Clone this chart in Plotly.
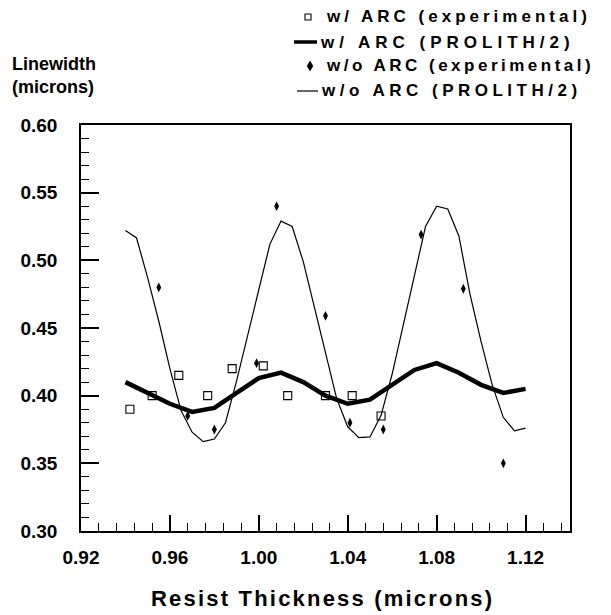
import plotly.graph_objects as go

# PROLITH/2 simulated linewidth vs. resist thickness (microns)
sim_thickness_fine = [0.940, 0.945, 0.950, 0.955, 0.960, 0.965, 0.970, 0.975, 0.980, 0.985,
                      0.990, 0.995, 1.000, 1.005, 1.010, 1.015, 1.020, 1.025, 1.030, 1.035,
                      1.040, 1.045, 1.050, 1.055, 1.060, 1.065, 1.070, 1.075, 1.080, 1.085,
                      1.090, 1.095, 1.100, 1.105, 1.110, 1.115, 1.120]
sim_without_arc = [0.522, 0.5165, 0.487, 0.455, 0.420, 0.389, 0.373, 0.366, 0.368, 0.380,
                   0.411, 0.444, 0.478, 0.512, 0.529, 0.525, 0.499, 0.465, 0.431, 0.398,
                   0.377, 0.369, 0.3695, 0.3855, 0.416, 0.452, 0.489, 0.525, 0.540, 0.538,
                   0.518, 0.475, 0.440, 0.408, 0.384, 0.374, 0.376]

sim_thickness_coarse = [0.94, 0.95, 0.96, 0.97, 0.98, 0.99, 1.00, 1.01, 1.02, 1.03,
                        1.04, 1.05, 1.06, 1.07, 1.08, 1.09, 1.10, 1.11, 1.12]
sim_with_arc = [0.410, 0.402, 0.394, 0.388, 0.391, 0.402, 0.413, 0.417, 0.410, 0.400,
                0.394, 0.397, 0.408, 0.419, 0.424, 0.417, 0.408, 0.402, 0.405]

# Measured linewidths
exp_with_arc_x = [0.942, 0.952, 0.964, 0.977, 0.988, 1.002, 1.013, 1.030, 1.042, 1.055]
exp_with_arc_y = [0.390, 0.400, 0.415, 0.400, 0.420, 0.422, 0.400, 0.400, 0.400, 0.385]

exp_without_arc_x = [0.955, 0.968, 0.980, 0.999, 1.008, 1.030, 1.041, 1.056, 1.073, 1.092, 1.110]
exp_without_arc_y = [0.480, 0.385, 0.375, 0.424, 0.540, 0.459, 0.380, 0.375, 0.519, 0.479, 0.350]

legend_labels = ["w/ ARC (experimental)", "w/ ARC (PROLITH/2)",
                 "w/o ARC (experimental)", "w/o ARC (PROLITH/2)"]

W, H = 611, 615
# plot box in pixels (left, right, top, bottom)
BOX_L, BOX_R, BOX_T, BOX_B = 81, 570, 125, 531
FONT = "Liberation Sans"


def px(x):
    return x / W


def py(y):
    return 1 - y / H


def spaced(text, ls):
    return f"<span style='letter-spacing:{ls}px'>{text}</span>"


fig = go.Figure()
fig.add_trace(go.Scatter(x=sim_thickness_fine, y=sim_without_arc, mode="lines",
                         line=dict(color="black", width=1.2), name=legend_labels[3]))
fig.add_trace(go.Scatter(x=sim_thickness_coarse, y=sim_with_arc, mode="lines",
                         line=dict(color="black", width=4.5), name=legend_labels[1]))
fig.add_trace(go.Scatter(x=exp_with_arc_x, y=exp_with_arc_y, mode="markers",
                         marker=dict(symbol="square-open", size=8, color="black",
                                     line=dict(width=1.1, color="black")),
                         name=legend_labels[0]))
fig.add_trace(go.Scatter(x=exp_without_arc_x, y=exp_without_arc_y, mode="markers",
                         marker=dict(symbol="diamond-tall", size=7, color="black"),
                         name=legend_labels[2]))

tickfont = dict(family=FONT, size=19, color="black", weight="bold")
axis_common = dict(showline=True, linecolor="black", linewidth=1.5, mirror=True,
                   showgrid=False, zeroline=False, ticks="inside", tickcolor="black",
                   tickwidth=1.5, tickformat=".2f", tickfont=tickfont, automargin=False)

fig.update_layout(
    width=W, height=H,
    margin=dict(l=0, r=0, t=0, b=0),
    paper_bgcolor="white", plot_bgcolor="white",
    showlegend=False,
    xaxis=dict(axis_common, domain=[px(BOX_L), px(BOX_R)], range=[0.92, 1.14],
               tick0=0.92, dtick=0.04, ticklen=16, ticklabelstandoff=8,
               minor=dict(ticks="inside", ticklen=8, dtick=0.008, tick0=0.92,
                          tickcolor="black", tickwidth=1)),
    yaxis=dict(axis_common, domain=[py(BOX_B), py(BOX_T)], range=[0.30, 0.60],
               tick0=0.30, dtick=0.05, ticklen=18, ticklabelstandoff=18,
               minor=dict(ticks="inside", ticklen=8, dtick=0.01, tick0=0.30,
                          tickcolor="black", tickwidth=1)),
)

annotations = [
    dict(text="Linewidth", x=px(10), y=py(64)),
    dict(text="(microns)", x=px(10), y=py(87)),
]
for a in annotations:
    a.update(xref="paper", yref="paper", xanchor="left", yanchor="middle",
             showarrow=False, font=dict(family=FONT, size=18, color="black", weight="bold"))

annotations.append(dict(text=spaced("Resist Thickness (microns)", 2.2),
                        x=px(322), y=py(598), xref="paper", yref="paper",
                        xanchor="center", yanchor="middle", showarrow=False,
                        font=dict(family=FONT, size=22, color="black", weight="bold")))

# legend block: (text start x, row centre y, letter spacing)
legend_rows = [(324, 17, 4.0), (318, 42, 5.0), (324, 66, 3.5), (319, 91, 4.5)]
for label, (tx, ty, ls) in zip(legend_labels, legend_rows):
    annotations.append(dict(text=spaced(label, ls), x=px(tx), y=py(ty),
                            xref="paper", yref="paper", xanchor="left", yanchor="middle",
                            showarrow=False,
                            font=dict(family=FONT, size=17, color="black", weight="bold")))
fig.update_layout(annotations=annotations)

shapes = [
    # open square key
    dict(type="rect", x0=px(305), x1=px(311), y0=py(14), y1=py(20),
         line=dict(color="black", width=1.1)),
    # thick line key
    dict(type="line", x0=px(294), x1=px(317), y0=py(42), y1=py(42),
         line=dict(color="black", width=3.5)),
    # diamond key
    dict(type="path",
         path=f"M {px(310)} {py(61)} L {px(313)} {py(66)} L {px(310)} {py(71)} L {px(307)} {py(66)} Z",
         fillcolor="black", line=dict(color="black", width=0.5)),
    # thin line key
    dict(type="line", x0=px(297), x1=px(318), y0=py(91), y1=py(91),
         line=dict(color="black", width=1.2)),
]
for s in shapes:
    s.update(xref="paper", yref="paper")
fig.update_layout(shapes=shapes)

fig.write_html("out.html")
